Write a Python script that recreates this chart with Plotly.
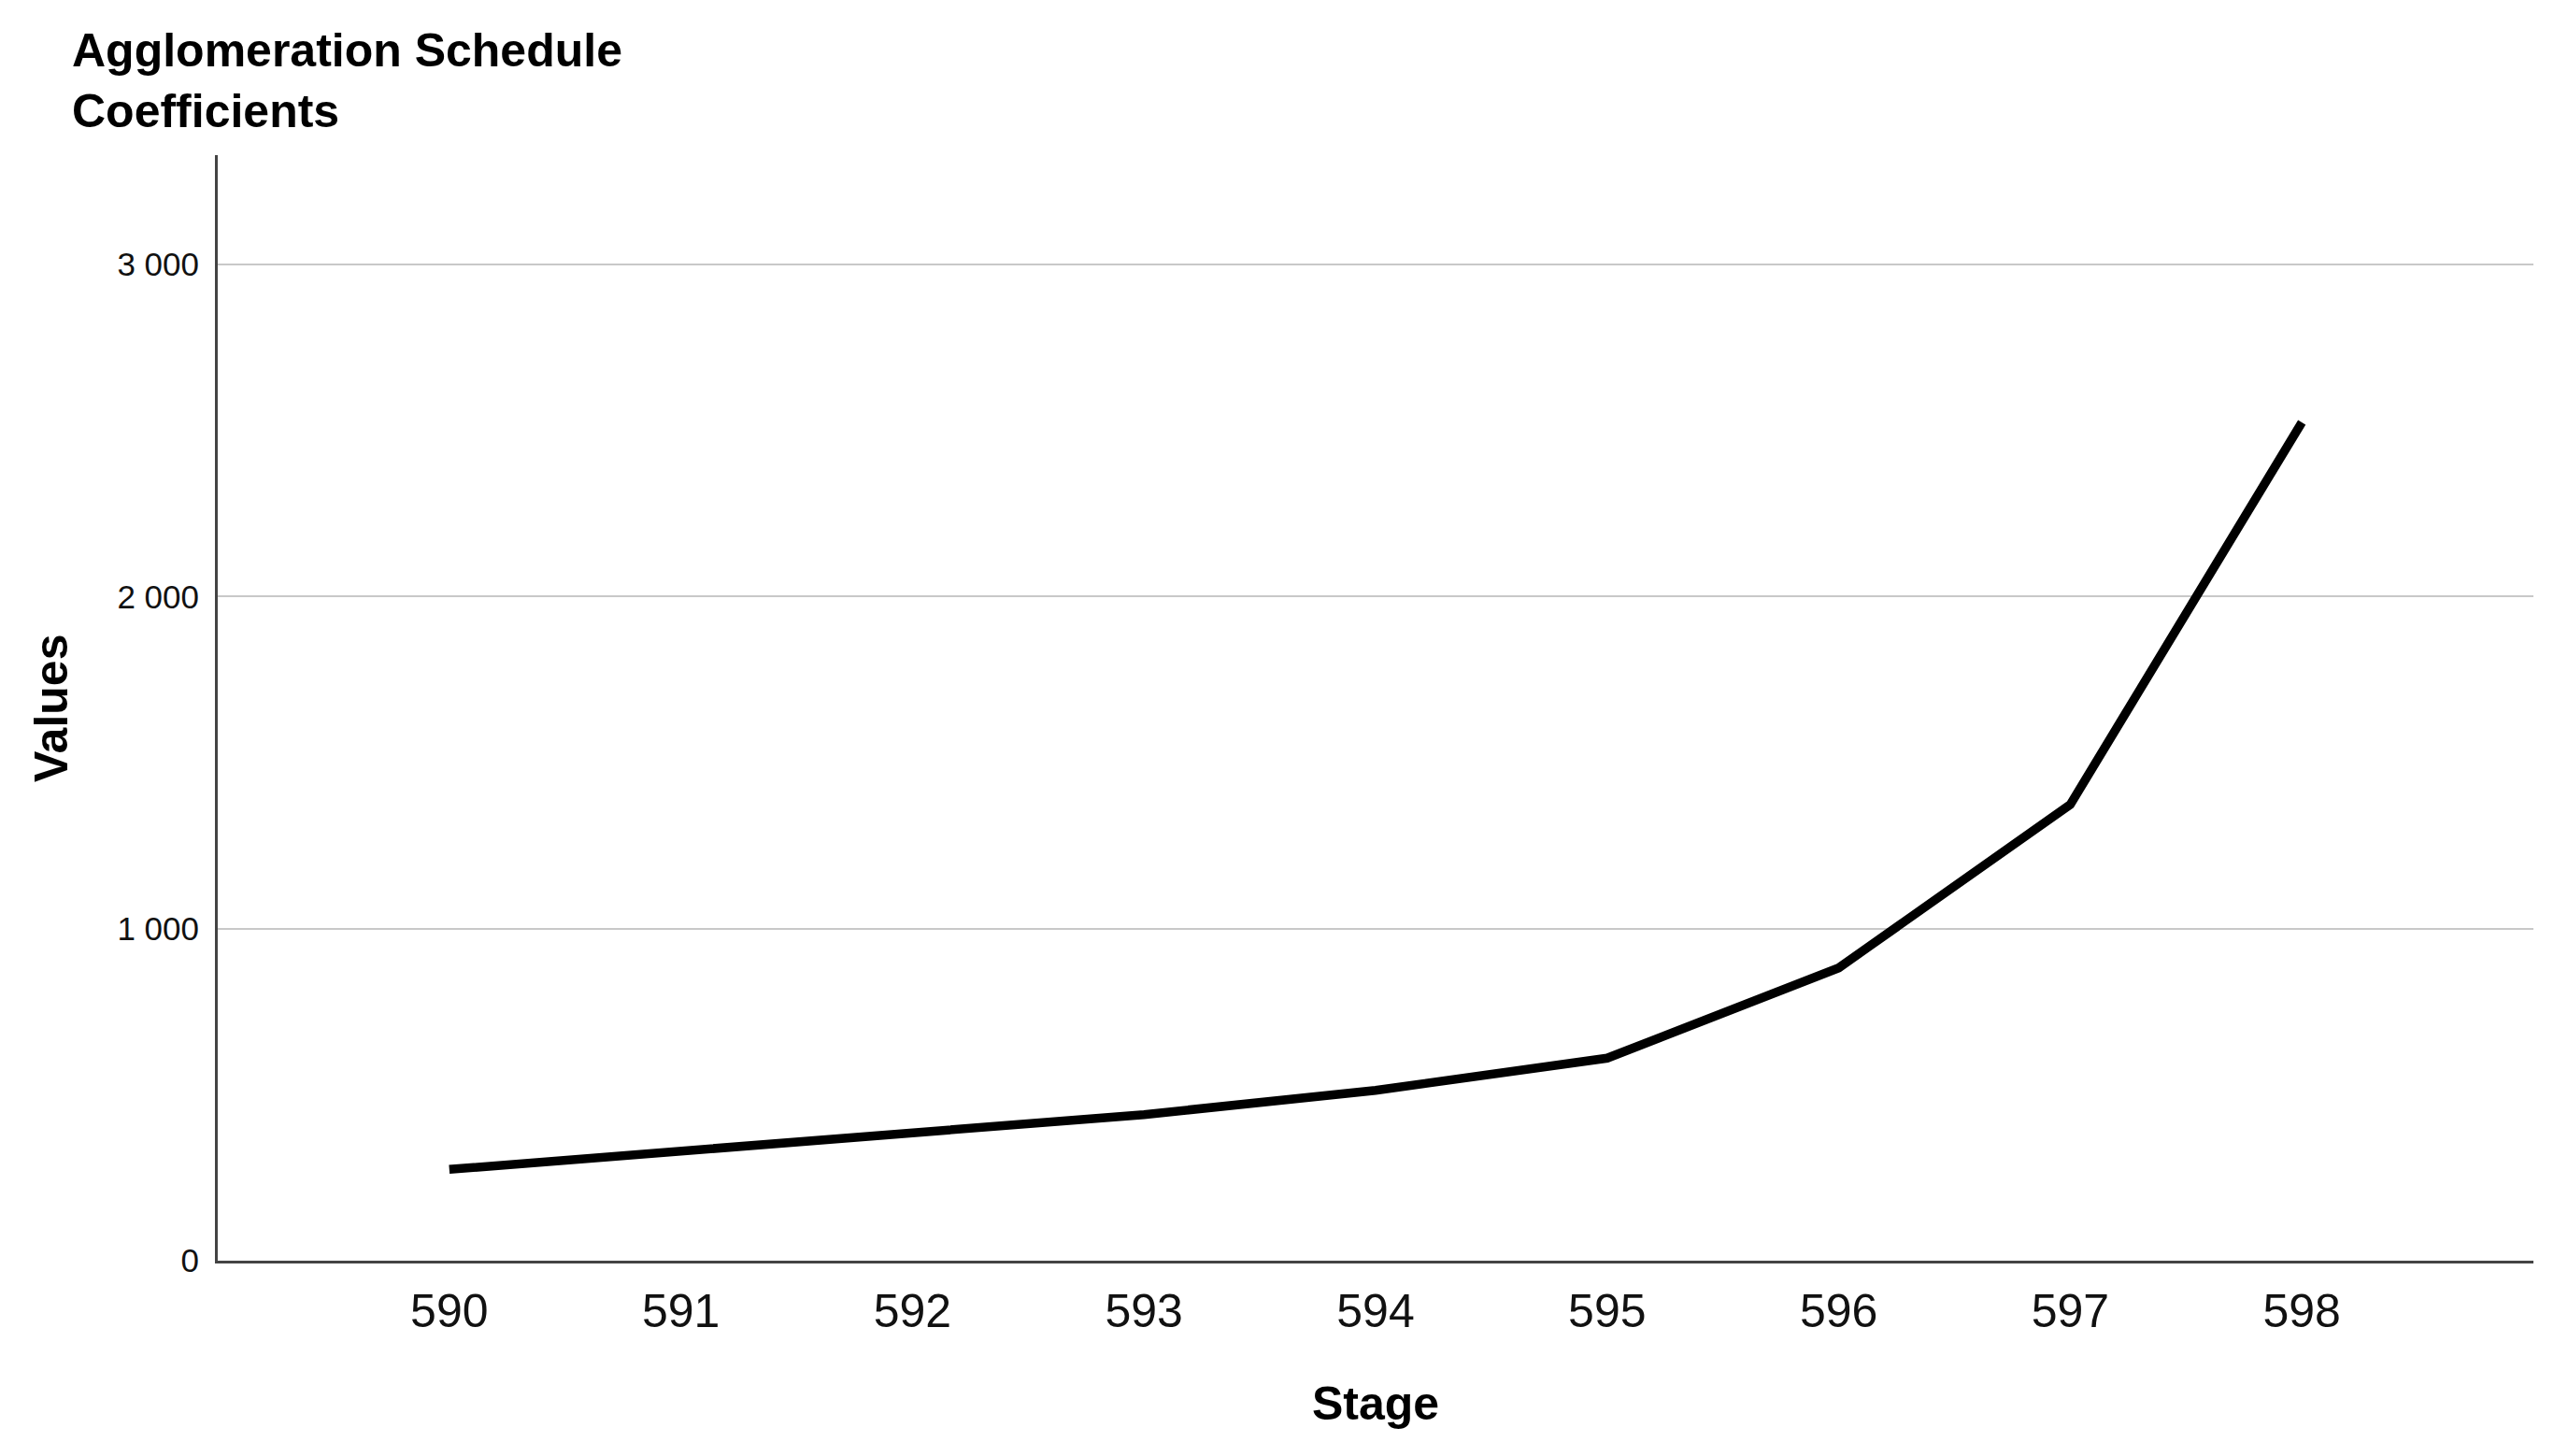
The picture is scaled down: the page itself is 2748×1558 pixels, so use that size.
import plotly.graph_objects as go

stages = [590, 591, 592, 593, 594, 595, 596, 597, 598]
coefficients = [275, 328, 383, 440, 513, 610, 882, 1374, 2525]
y_ticks = [0, 1000, 2000, 3000]
x_ticks = stages

OFF = 8  # page body margin in the browser
W, H = 2748 - OFF, 1558 - OFF
L, R, T, B = 233 - OFF, 37, 166 - OFF, 209
pw, ph = W - L - R, H - T - B

fig = go.Figure()
fig.add_trace(go.Scatter(
    x=stages, y=coefficients, mode="lines",
    line=dict(color="black", width=9.5),
    showlegend=False, hoverinfo="x+y",
))

font_family = "Liberation Sans, Arial, sans-serif"

fig.update_layout(
    width=W, height=H,
    margin=dict(l=L, r=R, t=T, b=B, pad=0),
    plot_bgcolor="white", paper_bgcolor="white",
    separators=". ",
    font=dict(family=font_family, color="black"),
    xaxis=dict(
        range=[589, 599], tickvals=x_ticks, ticks="",
        showgrid=False, zeroline=False,
        showline=True, linecolor="#444444", linewidth=3,
        tickfont=dict(size=50, color="#111111", family=font_family),
        ticklabelstandoff=8,
    ),
    yaxis=dict(
        range=[0, 3330], tickvals=y_ticks, tickformat=",d", ticks="",
        showgrid=True, gridcolor="#c8c8c8", gridwidth=2,
        zeroline=False,
        showline=True, linecolor="#444444", linewidth=3,
        tickfont=dict(size=35, color="#111111", family=font_family),
        ticklabelstandoff=10,
    ),
)

# helpers: convert target screen pixels into paper coordinates
def px_x(px):
    return (px - OFF - L) / pw

def px_y(py):
    return (H - B - (py - OFF)) / ph

annos = [
    dict(text="<b>Agglomeration Schedule</b><br><b>Coefficients</b>",
         x=px_x(76), y=px_y(86), align="left",
         xanchor="left", yanchor="middle", font=dict(size=50)),
    dict(text="<b>Stage</b>", x=px_x(1472), y=px_y(1502),
         xanchor="center", yanchor="middle", font=dict(size=50)),
    dict(text="<b>Values</b>", x=px_x(55), y=px_y(758),
         xanchor="center", yanchor="middle", textangle=-90, font=dict(size=50)),
]
for a in annos:
    fig.add_annotation(xref="paper", yref="paper", showarrow=False,
                       borderpad=0, **a)

fig.write_html("out.html")
